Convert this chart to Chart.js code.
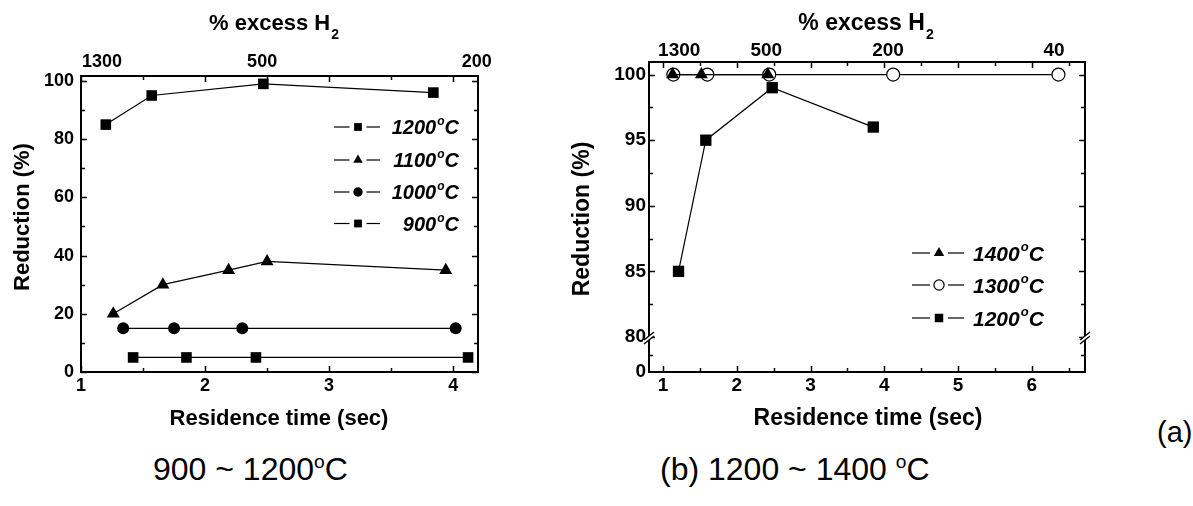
<!DOCTYPE html>
<html>
<head>
<meta charset="utf-8">
<script src="https://cdn.jsdelivr.net/npm/chart.js@4/dist/chart.umd.min.js"></script>
<style>
  html, body { margin: 0; padding: 0; background: #fff; }
  #wrap { position: relative; width: 1193px; height: 506px; overflow: hidden; background: #fff; }
  canvas { position: absolute; top: 0; }
  .cap { position: absolute; font-family: "Liberation Sans", Arial, sans-serif; color: #000; line-height: 1; white-space: nowrap; }
  .cap sup { font-size: 0.6em; vertical-align: 0; position: relative; top: -0.62em; }
</style>
</head>
<body>
<div id="wrap">
  <canvas id="ca" width="520" height="440" style="left:0px"></canvas>
  <canvas id="cb" width="560" height="440" style="left:560px"></canvas>
  <div class="cap" style="left:153px; top:453px; font-size:32px;">900 ~ 1200<sup>o</sup>C</div>
  <div class="cap" style="left:660px; top:453px; font-size:32px;">(b) 1200 ~ 1400 <sup>o</sup>C</div>
  <div class="cap" style="left:1157px; top:418px; font-size:29px;">(a)</div>
</div>
<script>
// ---------- Panel (a): 900 ~ 1200 °C ----------
const aX1200 = [1.20, 1.57, 2.47, 3.84];
const aY1200 = [85, 95, 99, 96];
const aX1100 = [1.26, 1.66, 2.19, 2.50, 3.94];
const aY1100 = [20, 30, 35, 38, 35];
const aX1000 = [1.34, 1.75, 2.30, 4.02];
const aY1000 = [15, 15, 15, 15];
const aX900 = [1.42, 1.85, 2.41, 4.12];
const aY900 = [5, 5, 5, 5];
const aXTicks = [1, 2, 3, 4];
const aXMinor = [1.5, 2.5, 3.5];
const aYTicks = [0, 20, 40, 60, 80, 100];
const aYMinor = [10, 30, 50, 70, 90];
const aTopTickPos = [1.17, 2.46, 4.19];
const aTopTickLabels = ['1300', '500', '200'];

// ---------- Panel (b): 1200 ~ 1400 °C ----------
const bX1400 = [1.13, 1.52, 2.42];
const bY1400 = [100, 100, 100];
const bX1300 = [1.14, 1.60, 2.44, 4.12, 6.36];
const bY1300 = [100, 100, 100, 100, 100];
const bX1200 = [1.21, 1.58, 2.48, 3.85];
const bY1200 = [85, 95, 99, 96];
const bXTicks = [1, 2, 3, 4, 5, 6];
const bXMinor = [1.5, 2.5, 3.5, 4.5, 5.5, 6.5];
const bYTickValues = [77.33, 80, 85, 90, 95, 100];
const bYTickLabels = ['0', '80', '85', '90', '95', '100'];
const bYMinor = [78.6, 82.5, 87.5, 92.5, 97.5];
const bTopTickPos = [1.22, 2.40, 4.05, 6.30];
const bTopTickLabels = ['1300', '500', '200', '40'];

const FAM = '"Liberation Sans", Arial, Helvetica, sans-serif';
const pts = (xs, ys) => xs.map((x, i) => ({ x: x, y: ys[i] }));

function ds(label, xs, ys, style, r, open) {
  return {
    label: label, data: pts(xs, ys), showLine: true, tension: 0,
    borderColor: '#000', borderWidth: 1.2,
    pointStyle: style, pointRadius: r, pointHoverRadius: r,
    pointBackgroundColor: open ? '#fff' : '#000',
    pointBorderColor: '#000', pointBorderWidth: open ? 1.2 : 0,
    xAxisID: 'x', yAxisID: 'y'
  };
}

function line(ctx, x1, y1, x2, y2) { ctx.beginPath(); ctx.moveTo(x1, y1); ctx.lineTo(x2, y2); ctx.stroke(); }

function drawDeg(ctx, num, x, yc, align, size) {
  const big = 'italic bold ' + size + 'px ' + FAM;
  const small = 'italic bold ' + Math.round(size * 0.6) + 'px ' + FAM;
  ctx.font = big; const w1 = ctx.measureText(num).width; const w3 = ctx.measureText('C').width;
  ctx.font = small; const w2 = ctx.measureText('o').width;
  const total = w1 + w2 + w3 + 1;
  const sx = align === 'right' ? x - total : x;
  const base = yc + size * 0.36;
  ctx.textAlign = 'left'; ctx.textBaseline = 'alphabetic'; ctx.fillStyle = '#000';
  ctx.font = big; ctx.fillText(num, sx, base);
  ctx.font = small; ctx.fillText('o', sx + w1 + 1, base - size * 0.45);
  ctx.font = big; ctx.fillText('C', sx + w1 + w2 + 1, base);
}

const decor = {
  id: 'decor',
  beforeDatasetsDraw(chart, args, o) {
    const ctx = chart.ctx; const a = chart.chartArea;
    const xs = chart.scales.x, ys = chart.scales.y;
    ctx.save();
    ctx.strokeStyle = '#000'; ctx.lineWidth = 1.5;
    const xt = (vals, len) => vals.forEach(v => { const p = Math.round(xs.getPixelForValue(v)) + 0.5; line(ctx, p, a.bottom, p, a.bottom - len); line(ctx, p, a.top, p, a.top + len); });
    const yt = (vals, len) => vals.forEach(v => { const p = Math.round(ys.getPixelForValue(v)) + 0.5; line(ctx, a.left, p, a.left + len, p); line(ctx, a.right, p, a.right - len, p); });
    xt(o.xMajor, 6); xt(o.xMinor, 4); yt(o.yMajor, 6); yt(o.yMinor, 4);
    ctx.lineWidth = 2;
    ctx.strokeRect(a.left, a.top, a.right - a.left, a.bottom - a.top);
    if (o.breakAt !== undefined) {
      const yb = ys.getPixelForValue(o.breakAt) + 1;
      [a.left, a.right].forEach(x => {
        ctx.strokeStyle = '#fff'; ctx.lineWidth = 3.5;
        line(ctx, x - 5, yb + 4, x + 5, yb - 4);
        ctx.strokeStyle = '#000'; ctx.lineWidth = 1.5;
        line(ctx, x - 5, yb + 2, x + 5, yb - 6);
        line(ctx, x - 5, yb + 6, x + 5, yb - 2);
      });
    }
    ctx.restore();
  },
  afterDatasetsDraw(chart, args, o) {
    const ctx = chart.ctx;
    ctx.save();
    const L = o.legend;
    chart.data.datasets.forEach((d, i) => {
      const yc = L.rows[i];
      const gap = L.r + 3;
      ctx.strokeStyle = '#000'; ctx.lineWidth = 1.2;
      line(ctx, L.x0, yc, L.mx - gap, yc);
      line(ctx, L.mx + gap, yc, L.x1, yc);
      ctx.fillStyle = d.pointBackgroundColor; ctx.strokeStyle = '#000';
      Chart.helpers.drawPoint(ctx, { pointStyle: d.pointStyle, radius: L.r * (d.pointStyle === 'circle' ? 0.85 : 1), rotation: 0, borderWidth: d.pointBorderWidth }, L.mx, yc);
      drawDeg(ctx, d.label.replace('°C', ''), L.tx, yc, L.align, L.size);
    });
    const T = o.titles;
    ctx.fillStyle = '#000';
    ctx.textBaseline = 'middle';
    const main = '% excess H';
    ctx.font = 'bold ' + T.size + 'px ' + FAM;
    const wm = ctx.measureText(main).width;
    const subFont = 'bold ' + Math.round(T.size * 0.62) + 'px ' + FAM;
    ctx.font = subFont; const ws = ctx.measureText('2').width;
    const sx = T.top[0] - (wm + ws + 1) / 2;
    ctx.textAlign = 'left';
    ctx.font = 'bold ' + T.size + 'px ' + FAM; ctx.fillText(main, sx, T.top[1]);
    ctx.font = subFont; ctx.fillText('2', sx + wm + 1, T.top[1] + T.size * 0.5);
    ctx.font = 'bold ' + T.size + 'px ' + FAM; ctx.textAlign = 'center';
    ctx.fillText('Residence time (sec)', T.xt[0], T.xt[1]);
    ctx.save(); ctx.translate(T.yt[0], T.yt[1]); ctx.rotate(-Math.PI / 2);
    ctx.fillText('Reduction (%)', 0, 0); ctx.restore();
    ctx.restore();
  }
};

function makeScales(cfg) {
  const tickFont = { family: FAM, size: cfg.tickSize, weight: 'bold' };
  const common = { grid: { display: false, drawTicks: false }, border: { display: false } };
  return {
    x: Object.assign({}, common, {
      type: 'linear', position: 'bottom', min: cfg.xmin, max: cfg.xmax,
      afterBuildTicks: s => { s.ticks = cfg.xTicks.map(v => ({ value: v })); },
      afterFit: s => { s.height = cfg.bottomH; },
      ticks: { font: tickFont, color: '#000', padding: cfg.xPad, autoSkip: false, maxRotation: 0, minRotation: 0, callback: v => String(v) }
    }),
    x2: Object.assign({}, common, {
      type: 'linear', position: 'top', display: true, min: cfg.xmin, max: cfg.xmax,
      afterBuildTicks: s => { s.ticks = cfg.topPos.map(v => ({ value: v })); },
      afterFit: s => { s.height = cfg.topH; },
      ticks: { font: tickFont, color: '#000', padding: cfg.topPad, autoSkip: false, maxRotation: 0, minRotation: 0, callback: (v, i) => cfg.topLabels[i] }
    }),
    y: Object.assign({}, common, {
      type: 'linear', position: 'left', min: cfg.ymin, max: cfg.ymax,
      afterBuildTicks: s => { s.ticks = cfg.yTicks.map(v => ({ value: v })); },
      afterFit: s => { s.width = cfg.leftW; },
      ticks: { font: tickFont, color: '#000', padding: cfg.yPad, autoSkip: false, callback: (v, i) => cfg.yLabels[i] }
    })
  };
}

new Chart(document.getElementById('ca'), {
  type: 'scatter',
  data: { datasets: [
    ds('1200°C', aX1200, aY1200, 'rect', 7.5, false),
    ds('1100°C', aX1100, aY1100, 'triangle', 7.5, false),
    ds('1000°C', aX1000, aY1000, 'circle', 6, false),
    ds('900°C', aX900, aY900, 'rect', 7.5, false)
  ] },
  options: {
    responsive: false, animation: false, devicePixelRatio: 1,
    layout: { padding: { left: 0, top: 0, right: 42, bottom: 0 } },
    scales: makeScales({
      xmin: 1, xmax: 4.2, ymin: 0, ymax: 101.7, tickSize: 18,
      xTicks: aXTicks, yTicks: aYTicks, yLabels: aYTicks.map(String),
      topPos: aTopTickPos, topLabels: aTopTickLabels,
      bottomH: 68, topH: 76, leftW: 81, xPad: 3, topPad: 3, yPad: 7
    }),
    plugins: {
      legend: { display: false }, tooltip: { enabled: false },
      decor: {
        xMajor: aXTicks, xMinor: aXMinor, yMajor: aYTicks, yMinor: aYMinor,
        legend: { rows: [127, 160, 192, 223.5], x0: 334, x1: 380, mx: 358, r: 5.5, tx: 459, align: 'right', size: 20 },
        titles: { size: 22, top: [274, 24], xt: [279, 419], yt: [23, 217] }
      }
    }
  },
  plugins: [decor]
});

new Chart(document.getElementById('cb'), {
  type: 'scatter',
  data: { datasets: [
    ds('1400°C', bX1400, bY1400, 'triangle', 7.5, false),
    ds('1300°C', bX1300, bY1300, 'circle', 6.5, true),
    ds('1200°C', bX1200, bY1200, 'rect', 8, false)
  ] },
  options: {
    responsive: false, animation: false, devicePixelRatio: 1,
    layout: { padding: { left: 0, top: 0, right: 35, bottom: 0 } },
    scales: makeScales({
      xmin: 0.81, xmax: 6.72, ymin: 77.33, ymax: 100.96, tickSize: 19,
      xTicks: bXTicks, yTicks: bYTickValues, yLabels: bYTickLabels,
      topPos: bTopTickPos, topLabels: bTopTickLabels,
      bottomH: 68, topH: 62, leftW: 89, xPad: 2, topPad: 0, yPad: 3
    }),
    plugins: {
      legend: { display: false }, tooltip: { enabled: false },
      decor: {
        xMajor: bXTicks, xMinor: bXMinor, yMajor: bYTickValues.slice(1), yMinor: bYMinor,
        breakAt: 80,
        legend: { rows: [253, 285, 318], x0: 352, x1: 404, mx: 379, r: 6, tx: 413, align: 'left', size: 21 },
        titles: { size: 23, top: [306, 24], xt: [308, 419], yt: [23, 219] }
      }
    }
  },
  plugins: [decor]
});
</script>
</body>
</html>
